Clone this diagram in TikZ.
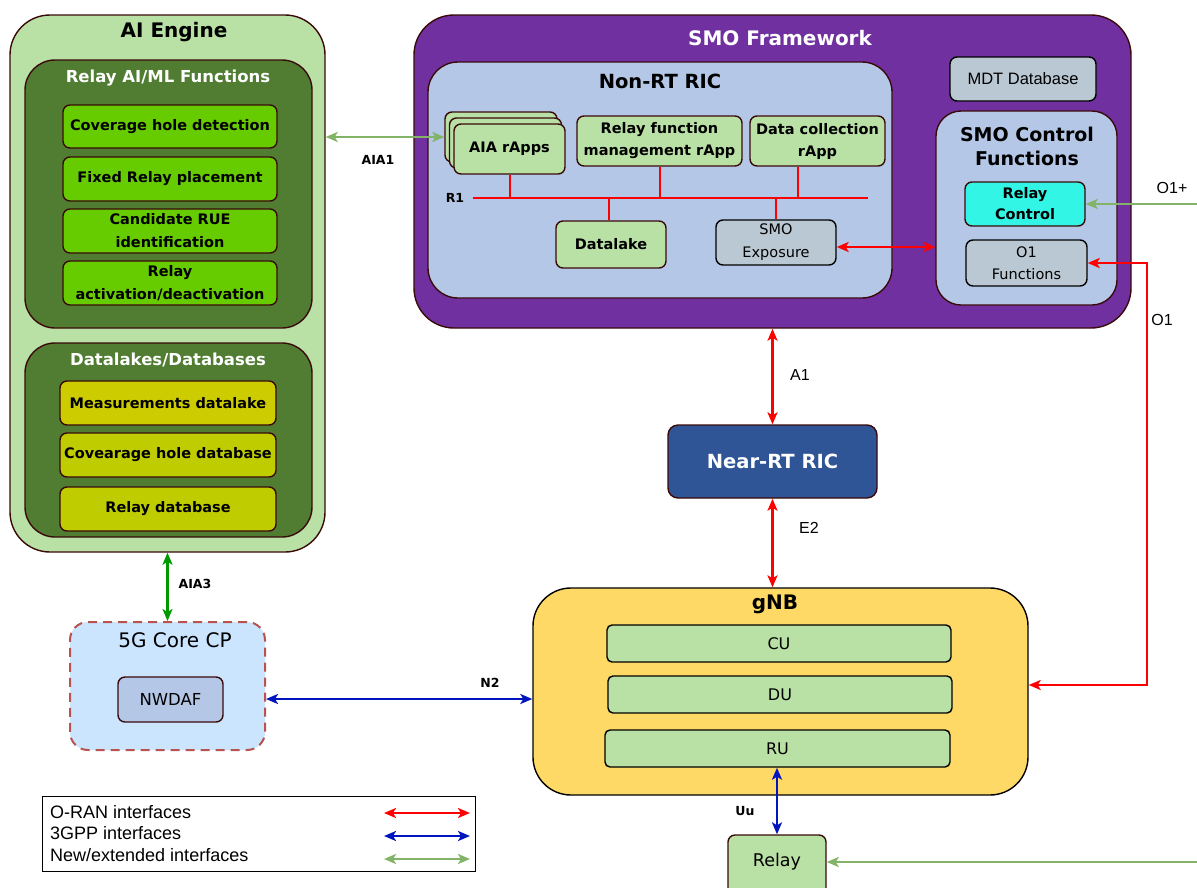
\documentclass[tikz,border=0pt]{standalone}
\usepackage{fontspec}
\setmainfont{DejaVu Sans}
\newfontfamily\arial{Liberation Sans}
\usetikzlibrary{arrows.meta}
\definecolor{brd}{HTML}{3A0A0A}
\definecolor{aiLight}{HTML}{B9E0A5}
\definecolor{aiDark}{HTML}{507D32}
\definecolor{bGreen}{HTML}{66CC00}
\definecolor{yel1}{HTML}{CCCC00}
\definecolor{yel2}{HTML}{BFCC00}
\definecolor{smoPurple}{HTML}{7030A0}
\definecolor{ricBlue}{HTML}{B4C7E7}
\definecolor{greyBox}{HTML}{BAC8D3}
\definecolor{cyanBox}{HTML}{33F5E6}
\definecolor{navy}{HTML}{2F5597}
\definecolor{gold}{HTML}{FFD966}
\definecolor{coreBlue}{HTML}{CCE5FF}
\definecolor{coreDash}{HTML}{B85450}
\definecolor{oranRed}{HTML}{FF0000}
\definecolor{gppBlue}{HTML}{0014C0}
\definecolor{newGreen}{HTML}{82B366}
\definecolor{aiaGreen}{HTML}{009900}
\newcommand\fsz[2]{\fontsize{#1}{#2}\selectfont}
\tikzset{
  box/.style={draw=brd, line width=1.4pt, rounded corners=7pt, inner sep=0pt, align=center, text=black},
  lbl/.style={inner sep=0pt, align=center},
  tipA/.tip={Stealth[length=12pt,width=10pt,inset=3pt]},
  oran/.style={draw=oranRed, line width=2.2pt, tipA-tipA},
  gpp/.style={draw=gppBlue, line width=2.2pt, tipA-tipA},
  newi/.style={draw=newGreen, line width=2.2pt, tipA-tipA},
  itemtxt/.style={font=\fsz{14.5}{23}\bfseries},
  small/.style={lbl, font=\fsz{12.5}{14}\bfseries},
}
\begin{document}
\begin{tikzpicture}[x=1pt,y=-1pt]
\useasboundingbox[fill=white] (0,0) rectangle (1197,887);

% ---------------- AI Engine ----------------
\node[box, fill=aiLight, minimum width=315pt, minimum height=537pt, rounded corners=40pt] (ai) at (167.5,283.5) {};
\node[lbl, font=\fsz{20}{24}\bfseries] (aiT) at (174,32) {AI Engine};
\node[box, fill=aiDark, minimum width=287pt, minimum height=268pt, rounded corners=30pt] (aiml) at (168.5,194) {};
\node[lbl, font=\fsz{16.5}{20}\bfseries, text=white] (aimlT) at (168,78) {Relay AI/ML Functions};
\node[box, fill=bGreen, minimum width=214pt, minimum height=43pt, itemtxt] (cov) at (170,126.5) {Coverage hole detection};
\node[box, fill=bGreen, minimum width=214pt, minimum height=44pt, itemtxt] (fix) at (170,179) {Fixed Relay placement};
\node[box, fill=bGreen, minimum width=214pt, minimum height=44pt, itemtxt] (cand) at (170,231) {Candidate RUE\\identification};
\node[box, fill=bGreen, minimum width=214pt, minimum height=44pt, itemtxt] (act) at (170,283) {Relay\\activation/deactivation};

\node[box, fill=aiDark, minimum width=287pt, minimum height=194pt, rounded corners=30pt] (dl) at (168.5,440) {};
\node[lbl, font=\fsz{16.5}{20}\bfseries, text=white] (dlT) at (168,360) {Datalakes/Databases};
\node[box, fill=yel1, minimum width=216pt, minimum height=44pt, itemtxt] (meas) at (168,403) {Measurements datalake};
\node[box, fill=yel2, minimum width=216pt, minimum height=44pt, itemtxt] (covdb) at (168,455) {Covearage hole database};
\node[box, fill=yel2, minimum width=216pt, minimum height=44pt, itemtxt] (reldb) at (168,509) {Relay database};

% ---------------- 5G Core ----------------
\node[draw=coreDash, dashed, dash pattern=on 9pt off 6pt, line width=2pt, fill=coreBlue, rounded corners=18pt, minimum width=195pt, minimum height=128pt, inner sep=0pt] (core) at (167.5,686) {};
\node[lbl, font=\fsz{20}{24}] (coreT) at (175,640) {5G Core CP};
\node[box, fill=ricBlue, minimum width=105pt, minimum height=45pt, font=\fsz{16.5}{19}] (nwdaf) at (170.5,699.5) {NWDAF};

% ---------------- SMO Framework ----------------
\node[box, fill=smoPurple, minimum width=717pt, minimum height=313pt, rounded corners=40pt] (smo) at (772.5,171.5) {};
\node[lbl, font=\fsz{20}{24}\bfseries, text=white] (smoT) at (780,38) {SMO Framework};
\node[box, fill=ricBlue, minimum width=464pt, minimum height=236pt, rounded corners=30pt] (nrt) at (660,180) {};
\node[lbl, font=\fsz{19.5}{22}\bfseries] (nrtT) at (660,81) {Non-RT RIC};

\node[box, fill=aiLight, minimum width=112pt, minimum height=50pt] (aiaB) at (501,137) {};
\node[box, fill=aiLight, minimum width=112pt, minimum height=50pt] (aiaM) at (505.5,143) {};
\node[box, fill=aiLight, minimum width=111pt, minimum height=50pt, font=\fsz{14.5}{18}\bfseries] (aia) at (509.5,149) {AIA rApps};
\node[box, fill=aiLight, minimum width=165pt, minimum height=50pt, font=\fsz{14.5}{22}\bfseries] (rfm) at (659.5,141) {Relay function\\management rApp};
\node[box, fill=aiLight, minimum width=135pt, minimum height=50pt, font=\fsz{14.5}{22}\bfseries] (dc) at (817.5,141) {Data collection\\rApp};
\node[box, fill=aiLight, minimum width=110pt, minimum height=47pt, font=\fsz{14.5}{18}\bfseries] (dlake) at (611,244.5) {Datalake};
\node[box, draw=black, fill=greyBox, minimum width=120pt, minimum height=45pt, font=\fsz{14.5}{23}] (smoexp) at (776,242.5) {SMO\\Exposure};

\coordinate (r1L) at (473,198);
\coordinate (r1R) at (868,198);
\node[small] (r1T) at (455,198) {R1};
\draw[draw=oranRed, line width=2pt] (r1L) -- (r1R);
\draw[draw=oranRed, line width=2pt] (aia.south) -- (aia.south |- r1L);
\draw[draw=oranRed, line width=2pt] (rfm.south) -- (rfm.south |- r1L);
\draw[draw=oranRed, line width=2pt] (dc.south -| 798,0) -- (798,198);
\draw[draw=oranRed, line width=2pt] (dlake.north -| 609,0) -- (609,198);
\draw[draw=oranRed, line width=2pt] (smoexp.north) -- (smoexp.north |- r1L);

\node[box, draw=black, fill=greyBox, minimum width=146pt, minimum height=44pt, font=\arial\fsz{16.5}{19}] (mdt) at (1023,79) {MDT Database};
\node[box, fill=ricBlue, minimum width=181pt, minimum height=194pt, rounded corners=25pt] (ctrl) at (1026.5,208) {};
\node[lbl, font=\fsz{19}{24}\bfseries] (ctrlT) at (1027,146) {SMO Control\\Functions};
\node[box, fill=cyanBox, minimum width=120pt, minimum height=44pt, font=\fsz{14.5}{21}\bfseries] (rc) at (1025,204) {Relay\\Control};
\node[box, draw=black, fill=greyBox, minimum width=121pt, minimum height=46pt, font=\fsz{14.5}{22}] (o1f) at (1026.5,263) {O1\\Functions};

% ---------------- Near-RT RIC, gNB ----------------
\node[box, fill=navy, minimum width=209pt, minimum height=73pt, rounded corners=10pt, font=\fsz{19.5}{22}\bfseries, text=white] (near) at (772.5,461.5) {Near-RT RIC};
\node[box, draw=black, fill=gold, minimum width=495pt, minimum height=207pt, rounded corners=38pt] (gnb) at (780.5,691.5) {};
\node[lbl, font=\fsz{20}{24}\bfseries] (gnbT) at (775,604) {gNB};
\node[box, draw=black, fill=aiLight, minimum width=344pt, minimum height=37pt, rounded corners=5pt, font=\fsz{16}{19}] (cu) at (779,643.5) {CU};
\node[box, draw=black, fill=aiLight, minimum width=344pt, minimum height=37pt, rounded corners=5pt, font=\fsz{16}{19}] (du) at (780,694.5) {DU};
\node[box, draw=black, fill=aiLight, minimum width=345pt, minimum height=37pt, rounded corners=5pt, font=\fsz{16}{19}] (ru) at (777.5,748.5) {RU};
\node[box, fill=aiLight, minimum width=98pt, minimum height=66pt, font=\fsz{17}{20}] (relay) at (777,868) {};
\node[lbl, font=\fsz{17.5}{20}] (relayT) at (777,862) {Relay};

% ---------------- connectors ----------------
\draw[newi] (ai.east |- aiaB.west) -- (aiaB.west);
\node[small] (aia1T) at (378,160) {AIA1};
\draw[draw=aiaGreen, line width=2.2pt, tipA-tipA] (ai.south -| core.north) -- (core.north);
\node[small] (aia3T) at (195,584) {AIA3};
\draw[gpp] ([yshift=-13pt]core.east) -- ([yshift=-13pt]core.east -| gnb.west);
\node[small] (n2T) at (490,683) {N2};
\draw[oran] (smoexp.east |- 0,247) -- (ctrl.west |- 0,247);
\draw[oran] (smo.south -| near.north) -- (near.north);
\node[lbl, font=\arial\fsz{16}{18}] (a1T) at (800,375) {A1};
\draw[oran] (near.south) -- (near.south |- gnb.north);
\node[lbl, font=\arial\fsz{16}{18}] (e2T) at (809,528) {E2};
\draw[gpp] (ru.south -| relay.north) -- (relay.north);
\node[small] (uuT) at (745,811) {Uu};
\coordinate (o1x) at (1147,263);
\draw[oran] (o1f.east) -- (o1x) -- (o1x |- 0,685) -- ([yshift=6.5pt]gnb.east);
\node[lbl, font=\arial\fsz{16}{18}] (o1T) at (1162,320) {O1};
\coordinate (o1pin) at (1197,204);
\draw[draw=newGreen, line width=2.2pt, -tipA] (o1pin) -- (rc.east |- o1pin);
\node[lbl, font=\arial\fsz{16}{18}] (o1pT) at (1172,188) {O1+};
\coordinate (relpin) at (1197,862);
\draw[draw=newGreen, line width=2.2pt, -tipA] (relpin) -- (relay.east |- relpin);

% ---------------- legend ----------------
\node[draw=black, line width=1pt, minimum width=433pt, minimum height=75pt, inner sep=0pt] (leg) at (258.5,833.5) {};
\node[lbl, anchor=west, font=\arial\fsz{18}{20}] (lg1) at (50,812) {O-RAN interfaces};
\node[lbl, anchor=west, font=\arial\fsz{18}{20}] (lg2) at (50,833) {3GPP interfaces};
\node[lbl, anchor=west, font=\arial\fsz{18}{20}] (lg3) at (50,855) {New/extended interfaces};
\coordinate (la1) at (384,813); \coordinate (lb1) at (470,813);
\coordinate (la2) at (384,836); \coordinate (lb2) at (470,836);
\coordinate (la3) at (384,859); \coordinate (lb3) at (470,859);
\draw[oran] (la1) -- (lb1);
\draw[gpp] (la2) -- (lb2);
\draw[newi] (la3) -- (lb3);
\end{tikzpicture}
\end{document}
